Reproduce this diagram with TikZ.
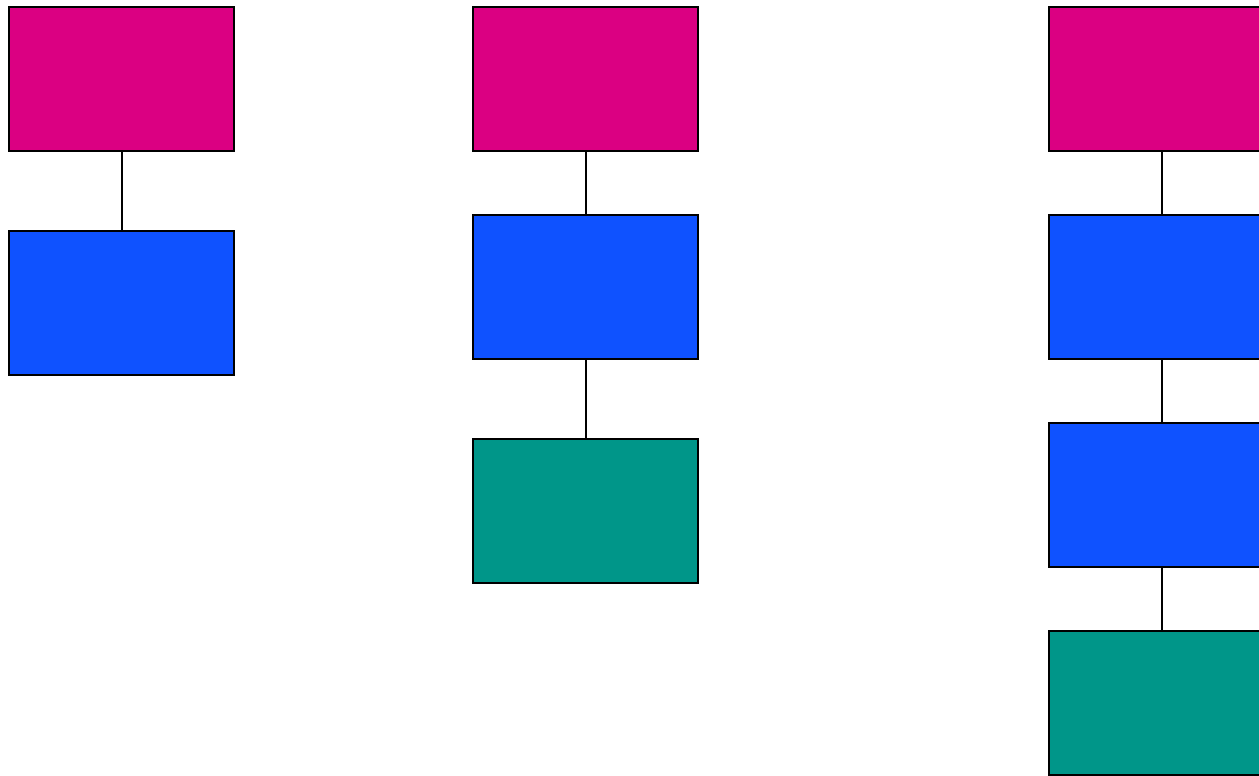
\documentclass[tikz,border=0pt]{standalone}
\definecolor{cpink}{RGB}{219,0,130}
\definecolor{cblue}{RGB}{15,82,255}
\definecolor{cteal}{RGB}{0,150,137}
\begin{document}
\begin{tikzpicture}[x=1pt,y=-1pt,
  box/.style={draw=black,line width=2pt,inner sep=0pt,minimum width=225pt,minimum height=144pt},
  pinkbox/.style={box,fill=cpink},
  bluebox/.style={box,fill=cblue},
  tealbox/.style={box,fill=cteal},
  link/.style={draw=black,line width=2pt}]
\useasboundingbox (0,0) rectangle (1259,776);
\clip (0,0) rectangle (1259,776);
% left column
\node[pinkbox] (a1) at (121.5,79) {};
\node[bluebox] (a2) at (121.5,303) {};
% middle column
\node[pinkbox] (b1) at (585.5,79) {};
\node[bluebox] (b2) at (585.5,287) {};
\node[tealbox] (b3) at (585.5,511) {};
% right column
\node[pinkbox] (c1) at (1161.5,79) {};
\node[bluebox] (c2) at (1161.5,287) {};
\node[bluebox] (c3) at (1161.5,495) {};
\node[tealbox] (c4) at (1161.5,703) {};
\draw[link] (a1.south) -- (a2.north);
\draw[link] (b1.south) -- (b2.north);
\draw[link] (b2.south) -- (b3.north);
\draw[link] (c1.south) -- (c2.north);
\draw[link] (c2.south) -- (c3.north);
\draw[link] (c3.south) -- (c4.north);
\end{tikzpicture}
\end{document}
